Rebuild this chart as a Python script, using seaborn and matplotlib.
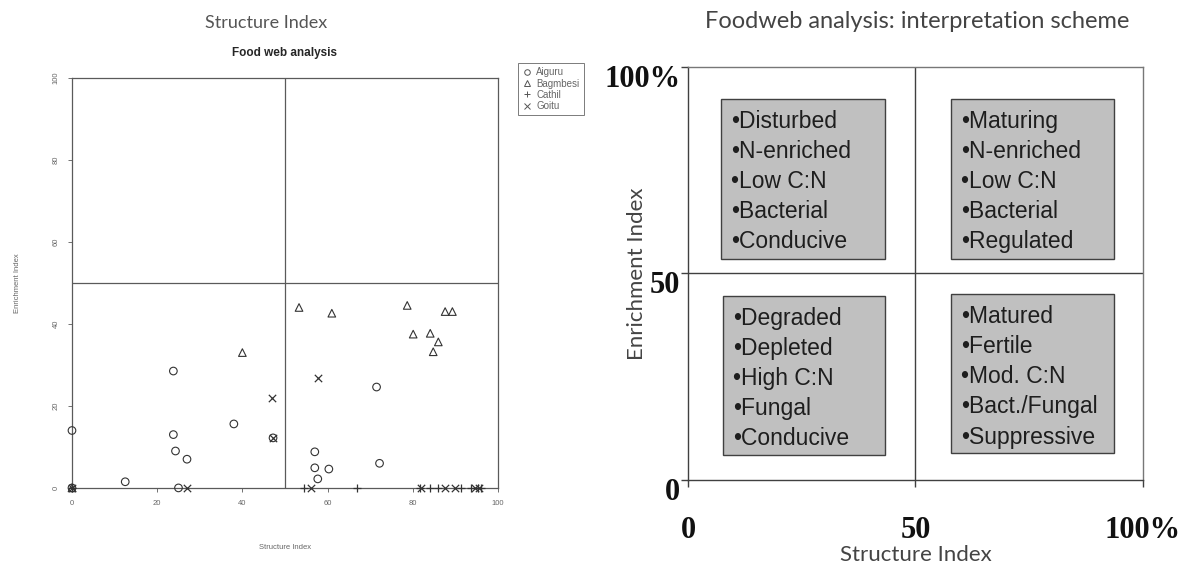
import numpy as np
import pandas as pd
import seaborn as sns
import matplotlib.pyplot as plt
from matplotlib.lines import Line2D
from matplotlib.patches import Rectangle
from matplotlib.transforms import ScaledTranslation

# ─── data: left panel (food web scatter) ────────────────────────────────
SITES = ["Aiguru", "Bagmbesi", "Cathil", "Goitu"]

aiguru_si = [0, 0, 12.5, 23.8, 23.8, 24.3, 27, 38, 47.2, 57, 57, 57.7, 60.3, 71.5, 72.2, 25]
aiguru_ei = [0, 14, 1.5, 28.5, 13, 9, 7, 15.6, 12.2, 8.8, 4.9, 2.2, 4.6, 24.6, 6, 0]

bagmbesi_si = [0, 40, 53.3, 61, 78.7, 80.1, 84.1, 84.8, 86, 87.6, 89.3]
bagmbesi_ei = [0, 33, 44, 42.6, 44.5, 37.5, 37.7, 33.2, 35.6, 43, 43]

cathil_si = [0, 54.4, 67, 81.8, 84, 86, 91.4, 93.7, 95.3, 96]
cathil_ei = [0, 0, 0, 0, 0, 0, 0, 0, 0, 0]

goitu_si = [0, 47, 47.2, 57.7, 27, 56, 82, 87.6, 90, 94.5, 95.5]
goitu_ei = [0, 22, 12.2, 26.8, 0, 0, 0, 0, 0, 0, 0]

# ─── data: right panel (interpretation scheme) ──────────────────────────
QUADRANTS = ["top_left", "top_right", "bottom_left", "bottom_right"]
traits_top_left = ["Disturbed", "N-enriched", "Low C:N", "Bacterial", "Conducive"]
traits_top_right = ["Maturing", "N-enriched", "Low C:N", "Bacterial", "Regulated"]
traits_bottom_left = ["Degraded", "Depleted", "High C:N", "Fungal", "Conducive"]
traits_bottom_right = ["Matured", "Fertile", "Mod. C:N", "Bact./Fungal", "Suppressive"]
scheme_ticks = [0, 50, 100]
scheme_ticklabels = ["0", "50", "100%"]

df = pd.concat([
    pd.DataFrame({"si": aiguru_si, "ei": aiguru_ei, "site": "Aiguru"}),
    pd.DataFrame({"si": bagmbesi_si, "ei": bagmbesi_ei, "site": "Bagmbesi"}),
    pd.DataFrame({"si": cathil_si, "ei": cathil_ei, "site": "Cathil"}),
    pd.DataFrame({"si": goitu_si, "ei": goitu_ei, "site": "Goitu"}),
], ignore_index=True)

# ─── styling ────────────────────────────────────────────────────────────
sns.set_theme(style="white")
plt.rcParams["font.family"] = ["Liberation Sans", "DejaVu Sans"]

fig = plt.figure(figsize=(11.8, 5.68), dpi=100)

# ─── left panel ─────────────────────────────────────────────────────────
LGRAY = "#5a5a5a"
ax1 = fig.add_axes([0.061, 0.141, 0.361, 0.722])
markers = {"Aiguru": "o", "Bagmbesi": "^", "Cathil": "+", "Goitu": "x"}
for site in SITES:
    sub = df[df["site"] == site]
    if markers[site] in ("o", "^"):
        kw = dict(facecolor="none", edgecolor="#333333", linewidth=0.8, s=30)
    else:
        kw = dict(color="#333333", linewidth=0.9, s=28)
    sns.scatterplot(data=sub, x="si", y="ei", marker=markers[site], ax=ax1,
                    clip_on=False, zorder=3, legend=False, **kw)

ax1.set_xlim(0, 100)
ax1.set_ylim(0, 100)
ax1.axvline(50, color=LGRAY, lw=0.9)
ax1.axhline(50, color=LGRAY, lw=0.9)
for sp in ax1.spines.values():
    sp.set_color(LGRAY)
    sp.set_linewidth(0.9)
ax1.set_xticks([0, 20, 40, 60, 80, 100])
ax1.set_yticks([0, 20, 40, 60, 80, 100])
ax1.tick_params(axis="both", direction="out", length=3, width=0.6, color=LGRAY,
                labelsize=5.5, labelcolor="#666666", bottom=True, left=True, pad=6)
plt.setp(ax1.get_yticklabels(), rotation=90, va="center")
ax1.set_xlabel("Structure Index", fontsize=5.5, color="#666666", labelpad=26)
ax1.set_ylabel("Enrichment Index", fontsize=5.5, color="#666666", labelpad=23)
ax1.set_title("Food web analysis", fontsize=8.5, fontweight="bold", pad=16)

handles = [Line2D([], [], ls="none", marker=markers[s], markersize=4,
                  markerfacecolor="none", markeredgecolor="#555555",
                  markeredgewidth=0.7) for s in SITES]
leg = fig.legend(handles, SITES, loc="upper left", bbox_to_anchor=(0.439, 0.889),
                 borderaxespad=0, fontsize=7, frameon=True, fancybox=False,
                 handlelength=1.0, handletextpad=0.4, labelspacing=0.12,
                 borderpad=0.45)
leg.get_frame().set_edgecolor(LGRAY)
leg.get_frame().set_linewidth(0.7)
for t in leg.get_texts():
    t.set_color("#666666")

fig.text(266 / 1180, 1 - 23 / 568, "Structure Index", ha="center", va="center",
         fontsize=13, color="#555555", family=["Lato", "DejaVu Sans"])

# ─── right panel ────────────────────────────────────────────────────────
DGRAY = "#404040"
ax2 = fig.add_axes([0.583, 0.155, 0.3856, 0.727])
ax2.set_xlim(0, 100)
ax2.set_ylim(0, 100)
ax2.axvline(50, color=DGRAY, lw=1.0)
ax2.axhline(50, color=DGRAY, lw=1.0)
for sp in ax2.spines.values():
    sp.set_color(DGRAY)
    sp.set_linewidth(1.0)
ax2.spines["top"].set_color("#777777")
ax2.spines["right"].set_color("#777777")

# box extents (x0, x1, y0, y1) per quadrant
box_layout = {
    "top_left": (7.3, 43.3, 53.5, 92.3),
    "top_right": (57.8, 93.6, 53.5, 92.3),
    "bottom_left": (7.7, 43.3, 6.1, 44.6),
    "bottom_right": (57.8, 93.6, 6.5, 45.0),
}
traits = {
    "top_left": traits_top_left,
    "top_right": traits_top_right,
    "bottom_left": traits_bottom_left,
    "bottom_right": traits_bottom_right,
}
for q in QUADRANTS:
    x0, x1, y0, y1 = box_layout[q]
    ax2.add_patch(Rectangle((x0, y0), x1 - x0, y1 - y0, facecolor="#c0c0c0",
                            edgecolor=DGRAY, linewidth=1.0, zorder=2))
    ax2.text(x0 + 2.2, y1 - 2.6, "\n".join("\u2022" + s for s in traits[q]),
             ha="left", va="top", fontsize=16.5, color="#1e1e1e",
             linespacing=1.4, zorder=3)

ax2.set_xticks(scheme_ticks)
ax2.set_xticklabels(scheme_ticklabels)
ax2.set_yticks(scheme_ticks)
ax2.set_yticklabels(scheme_ticklabels)
ax2.tick_params(axis="both", direction="out", length=5, width=1.0, color=DGRAY,
                bottom=True, left=True, labelsize=22)
ax2.tick_params(axis="x", pad=21)
ax2.tick_params(axis="y", pad=0.5)
for lab in ax2.get_xticklabels() + ax2.get_yticklabels():
    lab.set_family(["Liberation Serif", "DejaVu Serif"])
    lab.set_fontweight("bold")
    lab.set_color("#111111")
# y tick labels sit a little below their ticks in the original slide
shift = ScaledTranslation(0, -9 / 100, fig.dpi_scale_trans)
for lab in ax2.get_yticklabels():
    lab.set_transform(lab.get_transform() + shift)
ax2.set_xlabel("Structure Index", fontsize=16, color="#444444", labelpad=0,
               family=["Lato", "DejaVu Sans"])
ax2.set_ylabel("Enrichment Index", fontsize=16, color="#444444",
               family=["Lato", "DejaVu Sans"])
ax2.yaxis.set_label_coords(-0.09, 0.5)

fig.text(917 / 1180, 1 - 21 / 568, "Foodweb analysis: interpretation scheme",
         ha="center", va="center", fontsize=17, color="#444444",
         family=["Lato", "DejaVu Sans"])

fig.savefig("out.png", dpi=100)
